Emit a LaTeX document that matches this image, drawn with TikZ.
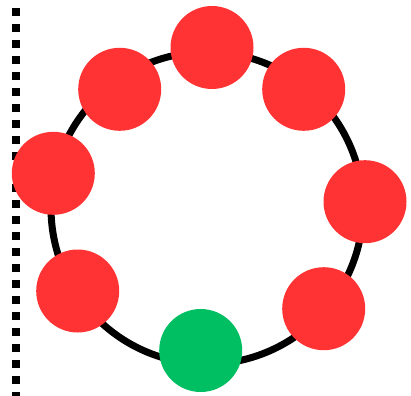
\documentclass[tikz,border=0pt]{standalone}
\definecolor{dotred}{RGB}{255,51,51}
\definecolor{dotgreen}{RGB}{0,191,99}
\begin{document}
\begin{tikzpicture}[x=1pt,y=-1pt,
  ball/.style={circle,inner sep=0pt,minimum size=83pt,fill=dotred,draw=none},
  greenball/.style={ball,fill=dotgreen},
  ring/.style={line width=7pt,black},
  fence/.style={line width=8pt,black,dash pattern=on 8pt off 8pt}]
\useasboundingbox (0,0) rectangle (411,395);
\clip (0,0) rectangle (411,395);
\coordinate (ftop) at (15.5,-8);
\coordinate (fbot) at (15.5,400);
\draw[fence] (ftop) -- (fbot);
\coordinate (c) at (207,208);
\draw[ring] (c) circle[radius=156pt];
\node[ball] (n1) at (212,47.5) {};
\node[ball] (n2) at (119.7,89.3) {};
\node[ball] (n3) at (303.7,89.3) {};
\node[ball] (n4) at (53.3,173.3) {};
\node[ball] (n5) at (365,201.7) {};
\node[ball] (n6) at (77.7,291) {};
\node[ball] (n7) at (323.7,308.7) {};
\node[greenball] (n8) at (200.7,350.5) {};
\end{tikzpicture}
\end{document}
